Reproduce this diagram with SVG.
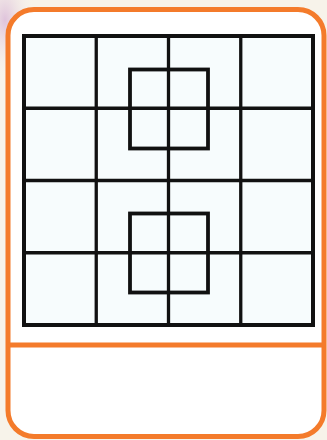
<svg xmlns="http://www.w3.org/2000/svg" width="327" height="440" viewBox="0 0 327 440">
<defs>
<style>
.card{fill:#ffffff;stroke:#f47b2b;stroke-width:5}
.div{stroke:#f47b2b;stroke-width:5}
.outer{fill:#f7fcfd;stroke:#111;stroke-width:4}
.ln{stroke:#111;stroke-width:3.3;fill:none}
.sq{stroke:#111;stroke-width:3.8;fill:none}
</style>
<radialGradient id="swirl" cx="0" cy="0" r="1" gradientUnits="userSpaceOnUse" gradientTransform="translate(5 20) scale(30 60)">
<stop offset="0" stop-color="#d9b7d8" stop-opacity="0.8"/>
<stop offset="1" stop-color="#f7f3ea" stop-opacity="0"/>
</radialGradient>
</defs>
<rect x="0" y="0" width="327" height="440" fill="#f7f3ea"/>
<rect x="0" y="0" width="60" height="120" fill="url(#swirl)"/>
<g id="card">
<rect class="card" x="8" y="9.5" width="316" height="427" rx="26" ry="26"/>
<line class="div" x1="8" y1="345" x2="324" y2="345"/>
</g>
<g id="grid">
<rect class="outer" x="24" y="36" width="289" height="289"/>
<line class="ln" x1="96.25" y1="36" x2="96.25" y2="325"/>
<line class="ln" x1="168.5" y1="36" x2="168.5" y2="325"/>
<line class="ln" x1="240.75" y1="36" x2="240.75" y2="325"/>
<line class="ln" x1="24" y1="108.25" x2="313" y2="108.25"/>
<line class="ln" x1="24" y1="180.5" x2="313" y2="180.5"/>
<line class="ln" x1="24" y1="252.75" x2="313" y2="252.75"/>
</g>
<g id="square1">
<rect class="sq" x="130" y="69.5" width="78" height="79"/>
</g>
<g id="square2">
<rect class="sq" x="130" y="213.5" width="78" height="79"/>
</g>
</svg>
